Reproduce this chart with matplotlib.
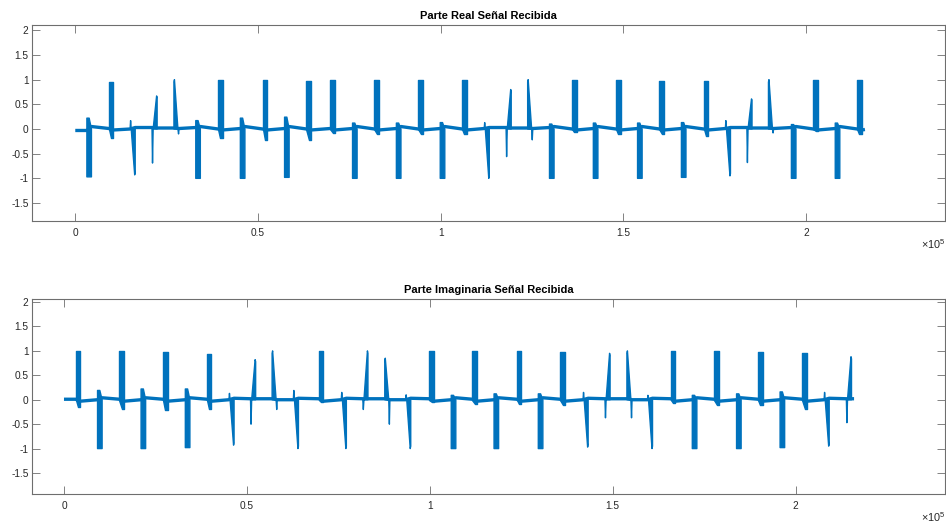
import matplotlib
matplotlib.use("Agg")
import matplotlib.pyplot as plt
from matplotlib.ticker import FuncFormatter

plt.rcParams['font.family'] = ['Liberation Sans', 'DejaVu Sans']
plt.rcParams['mathtext.fontset'] = 'custom'
plt.rcParams['mathtext.rm'] = 'Liberation Sans'

BLUE = '#0072BD'
AXC = '#6e6e6e'
TXT = '#262626'

# ---- pulse tables (sample index, kind, peak, opposite lobe) ----
# kinds: U/D = up/down block, wr = wedge with tip on the right, wl = tip on the left
top_c = [3800, 9800, 15700, 21700, 27700, 33600, 39700, 45800, 51900, 57900, 63900,
         70400, 76500, 82500, 88500, 94500, 100500, 106500, 112600, 118600, 124500,
         130400, 136600, 142400, 148600, 154500, 160500, 166500, 172600, 178600,
         184500, 190400, 196600, 202600, 208600, 214600]
top_kind = ['D', 'U', 'wr', 'wr', 'wl', 'D', 'U', 'D', 'U', 'D', 'U', 'U', 'D', 'U', 'D',
            'U', 'D', 'U', 'wr', 'wr', 'wl', 'D', 'U', 'D', 'U', 'D', 'U', 'D', 'U',
            'wr', 'wr', 'wl', 'D', 'U', 'D', 'U']
top_peak = [-0.97, 0.95, -0.93, 0.67, 1.0, -1.0, 1.0, -1.0, 1.0, -0.98, 0.97, 1.0,
            -1.0, 1.0, -1.0, 1.0, -1.0, 0.99, -1.0, 0.8, 1.0, -1.0, 1.0, -1.0, 1.0,
            -1.0, 0.98, -0.98, 0.97, -0.95, 0.61, 1.0, -1.0, 1.0, -1.0, 1.0]
top_minor = [0.22, -0.18, 0.17, -0.69, -0.1, 0.17, -0.18, 0.22, -0.22, 0.24, -0.23,
             -0.08, 0.12, -0.1, 0.12, -0.1, 0.13, -0.1, 0.13, -0.56, -0.22, 0.1, -0.07,
             0.12, -0.1, 0.12, -0.1, 0.13, -0.15, 0.17, -0.68, -0.08, 0.09, -0.05,
             0.12, -0.1]
top_pre = [-0.03, 0.01, 0.0, 0.03, 0.02, 0.03, 0.0, 0.01, 0.0, 0.01, 0.0, 0.01,
           0.01, 0.0, 0.01, 0.0, 0.01, 0.0, 0.01, 0.03, 0.02, 0.03, 0.0, 0.01, 0.0,
           0.01, 0.0, 0.01, 0.0, 0.01, 0.03, 0.02, 0.03, 0.0, 0.01, 0.0]
top_post = [0.05, -0.02, 0.03, 0.02, 0.01, 0.05, -0.02, 0.05, -0.02, 0.05, -0.02,
            -0.02, 0.05, -0.02, 0.05, -0.02, 0.05, -0.02, 0.03, 0.02, 0.01, 0.05,
            -0.02, 0.05, -0.02, 0.05, -0.02, 0.05, -0.02, 0.03, 0.02, 0.01, 0.05,
            -0.02, 0.05, -0.02]
top_ends = [(0, -0.03), (216100, -0.01)]

bot_c = [3800, 9800, 15800, 21700, 27700, 33800, 39700, 45800, 51700, 57600, 63400,
         70300, 76500, 82400, 88400, 94100, 100500, 106500, 112300, 118200, 124400,
         130300, 136300, 142600, 148600, 154600, 160200, 166500, 172400, 178400,
         184500, 190400, 196400, 202500, 208500, 214600]
bot_kind = ['U', 'D', 'U', 'D', 'U', 'D', 'U', 'wr', 'wr', 'wl', 'wr', 'U', 'wr', 'wr',
            'wl', 'wr', 'U', 'D', 'U', 'D', 'U', 'D', 'U', 'wr', 'wr', 'wl', 'wr', 'U',
            'D', 'U', 'D', 'U', 'D', 'U', 'wr', 'wr']
bot_peak = [1.0, -1.0, 1.0, -1.0, 0.98, -0.98, 0.93, -0.93, 0.82, 1.0, -1.0, 1.0,
            -1.0, 1.0, 0.85, -1.0, 1.0, -1.0, 1.0, -1.0, 0.99, -1.0, 0.97, -0.97, 0.95,
            1.0, -1.0, 1.0, -1.0, 1.0, -1.0, 0.98, -0.98, 0.95, -0.95, 0.88]
bot_minor = [-0.15, 0.19, -0.2, 0.22, -0.22, 0.22, -0.2, 0.13, -0.5, -0.2, 0.19,
             -0.05, 0.15, -0.2, -0.5, 0.1, -0.05, 0.09, -0.08, 0.12, -0.08, 0.12, -0.1,
             0.15, -0.37, -0.37, 0.09, -0.07, 0.09, -0.1, 0.12, -0.1, 0.16, -0.18,
             0.15, -0.47]
bot_pre = [0.01, 0.0, 0.01, 0.0, 0.01, 0.0, 0.01, 0.0, 0.02, 0.02, 0.0, 0.02, 0.0,
           0.02, 0.02, 0.0, 0.02, 0.0, 0.01, 0.0, 0.01, 0.0, 0.01, 0.0, 0.02, 0.02,
           0.0, 0.02, 0.0, 0.01, 0.0, 0.01, 0.0, 0.01, 0.0, 0.02]
bot_post = [-0.03, 0.04, -0.03, 0.04, -0.03, 0.04, -0.03, 0.03, 0.02, 0.0, 0.03,
            -0.03, 0.03, 0.02, 0.0, 0.03, -0.03, 0.04, -0.03, 0.04, -0.03, 0.04,
            -0.03, 0.03, 0.02, 0.0, 0.03, -0.03, 0.04, -0.03, 0.04, -0.03, 0.04,
            -0.03, 0.03, 0.02]
bot_ends = [(0, 0.01), (216000, 0.02)]

yticks = [-1.5, -1, -0.5, 0, 0.5, 1, 1.5, 2]
xticks = [0, 50000, 100000, 150000, 200000]

W_BLOCK = 1250
W_WEDGE = 1400


def pulse_outline(c, kind, a, b):
    w = W_BLOCK if kind in ('U', 'D') else W_WEDGE
    x0, x1 = c - w / 2, c + w / 2
    if kind == 'U':
        pts = [(x0, 0), (x0, a), (x1, a), (x1, b), (x1 - 0.5 * w, b)]
    elif kind == 'D':
        pts = [(x0, b), (x0 + 0.5 * w, b), (x1, 0), (x1, a), (x0, a)]
    elif kind == 'wr':
        pts = [(x0, 0), (x0 + 0.1 * w, b), (x0 + 0.22 * w, 0),
               (x1 - 0.1 * w, a), (x1, a * 0.95), (x1, 0)]
    else:  # wl
        pts = [(x0, 0), (x0, a * 0.95), (x0 + 0.1 * w, a), (x0 + 0.78 * w, 0),
               (x0 + 0.9 * w, b), (x1, 0)]
    return [p[0] for p in pts], [p[1] for p in pts]


def draw_signal(ax, cs, kinds, peaks, minors, pre, post, ends):
    bx, by = [ends[0][0]], [ends[0][1]]
    for c, k, lo, hi in zip(cs, kinds, pre, post):
        w = W_BLOCK if k in ('U', 'D') else W_WEDGE
        bx += [c - w / 2, c + w / 2]
        by += [lo, hi]
    bx.append(ends[1][0])
    by.append(ends[1][1])
    ax.plot(bx, by, color=BLUE, lw=2.4, solid_joinstyle='round', solid_capstyle='butt')
    for c, k, a, b in zip(cs, kinds, peaks, minors):
        xs, ys = pulse_outline(c, k, a, b)
        ax.fill(xs, ys, color=BLUE, lw=1.0, joinstyle='round')


def style(ax, title, xlim, ylim):
    ax.set_xlim(*xlim)
    ax.set_ylim(*ylim)
    ax.set_xticks(xticks)
    ax.set_yticks(yticks)
    ax.xaxis.set_major_formatter(FuncFormatter(lambda v, p: f"{v / 1e5:g}"))
    ax.yaxis.set_major_formatter(FuncFormatter(lambda v, p: f"{v:g}"))
    ax.tick_params(direction='in', top=True, right=True, length=5.8, width=0.6,
                   color=AXC, labelcolor=TXT, labelsize=7.3)
    ax.tick_params(axis='x', pad=5)
    ax.tick_params(axis='y', pad=2.5)
    for s in ax.spines.values():
        s.set_color(AXC)
        s.set_linewidth(0.8)
    ax.set_title(title, fontsize=8, fontweight='bold', color='black', pad=4)
    ax.text(1.0, -0.12, r'$\times10^{5}$', transform=ax.transAxes, ha='right',
            va='center', fontsize=7.8, color=TXT)


fig = plt.figure(figsize=(9.46, 5.27), dpi=100)
ax1 = fig.add_axes([0.0338, 0.5806, 0.9651, 0.3719])
ax2 = fig.add_axes([0.0338, 0.0626, 0.9651, 0.3706])

draw_signal(ax1, top_c, top_kind, top_peak, top_minor, top_pre, top_post, top_ends)
draw_signal(ax2, bot_c, bot_kind, bot_peak, bot_minor, bot_pre, bot_post, bot_ends)

style(ax1, 'Parte Real Señal Recibida', (-11850, 238000), (-1.865, 2.107))
style(ax2, 'Parte Imaginaria Señal Recibida', (-8750, 240850), (-1.93, 2.068))

fig.savefig('out.png', dpi=100, facecolor='white')
